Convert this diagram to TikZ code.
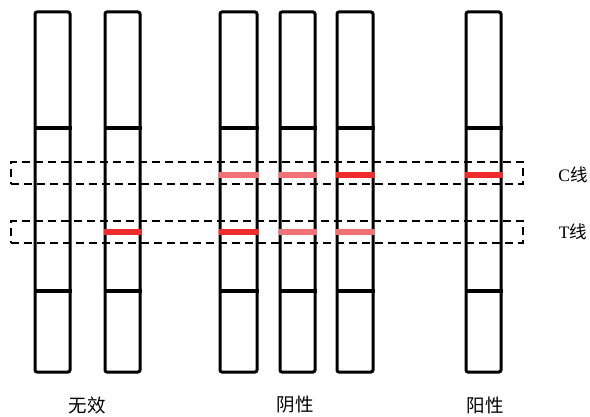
\documentclass[tikz,border=0pt]{standalone}
\usepackage{fontspec}
\setmainfont{Liberation Serif}
\newfontfamily\cjk{Noto Sans CJK SC}
\usetikzlibrary{positioning}

\definecolor{bandred}{RGB}{238,44,44}
\definecolor{bandpink}{RGB}{240,114,120}

\begin{document}
\begin{tikzpicture}[x=1pt,y=-1pt,
    stripbox/.style={rectangle, draw, line width=3pt, rounded corners=2pt,
        minimum width=35pt, minimum height=360pt, inner sep=0pt},
    cut/.style={line width=3.2pt},
    zone/.style={rectangle, draw, line width=2.2pt, dash pattern=on 8pt off 5pt,
        minimum width=512pt, minimum height=22pt, inner sep=0pt},
    strong/.style={line width=5.5pt, bandred},
    faint/.style={line width=5.5pt, bandpink},
    lbl/.style={font=\fontsize{18.5}{20}\selectfont\cjk}]
\useasboundingbox (0,0) rectangle (590,417);

%% Nodes definition
\node[stripbox] (s1) at (52.5,192) {};
\node[stripbox] (s2) at (122.5,192) {};
\node[stripbox, minimum width=37pt] (s3) at (238.5,192) {};
\node[stripbox] (s4) at (297.5,192) {};
\node[stripbox, minimum width=36pt] (s5) at (355,192) {};
\node[stripbox] (s6) at (483.5,192) {};

\coordinate (upper) at (0,128);
\coordinate (lower) at (0,291);
\coordinate (cline) at (0,175);
\coordinate (tline) at (0,232);

\node[zone] (czone) at (267,173) {};
\node[zone] (tzone) at (267,232) {};
\node[lbl, font=\fontsize{17.5}{20}\selectfont] (clabel) at (573,175) {C{\cjk 线}};
\node[lbl, font=\fontsize{17.5}{20}\selectfont] (tlabel) at (573,232) {T{\cjk 线}};

\node[lbl] (invalid) at (87,405) {无效};
\node[lbl] (negative) at (295,405) {阴性};
\node[lbl] (positive) at (485,405) {阳性};

%% Dividers
\foreach \s in {s1,s2,s3,s4,s5,s6} {
    \draw[cut] (\s.west |- upper) -- (\s.east |- upper);
    \draw[cut] (\s.west |- lower) -- (\s.east |- lower);
}

%% Bands
\draw[faint] (s3.west |- cline) -- (s3.east |- cline);
\draw[faint] (s4.west |- cline) -- (s4.east |- cline);
\draw[strong] (s5.west |- cline) -- (s5.east |- cline);
\draw[strong] (s6.west |- cline) -- (s6.east |- cline);
\draw[strong] (s2.west |- tline) -- (s2.east |- tline);
\draw[strong] (s3.west |- tline) -- (s3.east |- tline);
\draw[faint] (s4.west |- tline) -- (s4.east |- tline);
\draw[faint] (s5.west |- tline) -- (s5.east |- tline);
\end{tikzpicture}
\end{document}
